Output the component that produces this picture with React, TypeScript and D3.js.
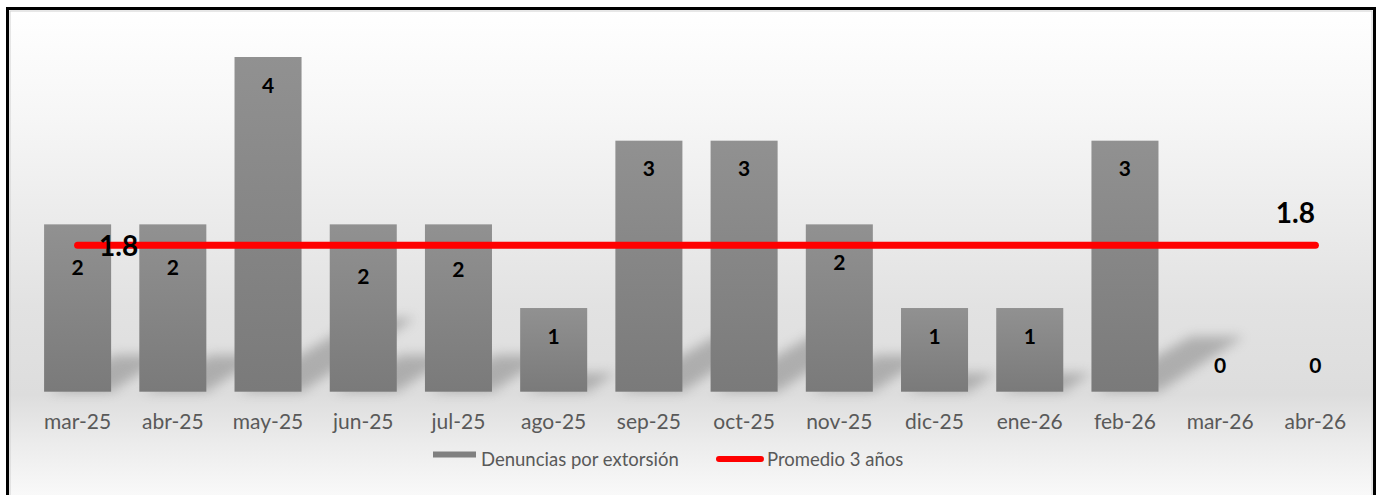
import React from "react";
import * as d3 from "d3";

const categories = ["mar-25","abr-25","may-25","jun-25","jul-25","ago-25","sep-25","oct-25","nov-25","dic-25","ene-26","feb-26","mar-26","abr-26"];
const denuncias = [2,2,4,2,2,1,3,3,2,1,1,3,0,0];
const promedio = [1.75,1.75,1.75,1.75,1.75,1.75,1.75,1.75,1.75,1.75,1.75,1.75,1.75,1.75];
// extra downward shift of some value labels (moved manually in the original to avoid the line)
const labelShift = [15,15,0,24,17,0,0,0,10,0,0,0,0,0];
const seriesNames = ["Denuncias por extorsión","Promedio 3 años"];

const W = 1380, H = 495;
const FONT = "Lato, 'Open Sans', sans-serif";

export default function App() {
  const x = d3.scaleBand<string>().domain(categories).range([30, 1363]).paddingInner(0.296).paddingOuter(0.148);
  const y = d3.scaleLinear().domain([0, 4]).range([391.7, 57]);
  const bw = x.bandwidth();
  const cx = (c: string) => (x(c) as number) + bw / 2;
  const base = y(0);

  const line = d3.line<number>()
    .x((_, i) => cx(categories[i]))
    .y(d => y(d));

  const fmt = d3.format(".1f");

  return (
    <svg width={W} height={H} style={{ position: "absolute", left: 0, top: 0 }} fontFamily={FONT}>
      <defs>
        <linearGradient id="bg" x1="0" y1="0" x2="0" y2="1">
          <stop offset="0" stopColor="#ffffff" />
          <stop offset="0.22" stopColor="#f6f6f6" />
          <stop offset="0.6" stopColor="#e2e2e2" />
          <stop offset="0.78" stopColor="#dddddd" />
          <stop offset="0.88" stopColor="#ececec" />
          <stop offset="1" stopColor="#fbfbfb" />
        </linearGradient>
        <linearGradient id="barg" x1="0" y1="0" x2="0" y2="1">
          <stop offset="0" stopColor="#919191" />
          <stop offset="1" stopColor="#7a7a7a" />
        </linearGradient>
        <filter id="blur" x="-50%" y="-50%" width="200%" height="200%">
          <feGaussianBlur stdDeviation="6" />
        </filter>
      </defs>
      <rect x={7.5} y={8.5} width={1367} height={495} fill="url(#bg)" stroke="#000" strokeWidth={3} />
      <rect x={10} y={11} width={1362} height={490} fill="none" stroke="#d0d0d0" strokeWidth={1} />

      {/* shadows */}
      <g filter="url(#blur)" opacity={0.42}>
        {denuncias.map((v, i) => {
          const c = categories[i];
          const x0 = x(c) as number, x1 = x0 + bw;
          const h = base - y(v);
          if (h <= 0) return null;
          const up = 0.22 * h, sh = 0.34 * h;
          const pts = [[x0 + 4, base], [x1, base], [x1 + sh, base - up], [x0 + sh + 14, base - up]];
          return <polygon key={c} points={pts.map(p => p.join(",")).join(" ")} fill="#6a6a6a" />;
        })}
      </g>

      {/* bars */}
      {denuncias.map((v, i) => {
        const c = categories[i];
        return <rect key={c} x={x(c)} y={y(v)} width={bw} height={base - y(v)} fill="url(#barg)" />;
      })}

      {/* category labels */}
      {categories.map(c => (
        <text key={c} x={cx(c)} y={429} textAnchor="middle" fontSize={21} fill="#595959">{c}</text>
      ))}

      {/* average line */}
      <path d={line(promedio) || ""} fill="none" stroke="#ff0000" strokeWidth={7} strokeLinecap="round" />

      {/* value labels */}
      {denuncias.map((v, i) => {
        const c = categories[i];
        const yy = v > 0 ? y(v) + 35.5 + labelShift[i] : base - 18.5;
        return <text key={c} x={cx(c)} y={yy} textAnchor="middle" fontSize={21} fontWeight="bold" fill="#000">{v}</text>;
      })}

      {/* average labels */}
      <text x={cx(categories[0]) + 41} y={y(promedio[0]) + 11} textAnchor="middle" fontSize={28} fontWeight="bold" fill="#000">{fmt(promedio[0])}</text>
      <text x={cx(categories[categories.length - 1]) - 20} y={y(promedio[promedio.length - 1]) - 22} textAnchor="middle" fontSize={28} fontWeight="bold" fill="#000">{fmt(promedio[promedio.length - 1])}</text>

      {/* legend */}
      <rect x={433} y={451.5} width={43} height={6} fill="#808080" />
      <text x={481} y={466} fontSize={18.5} fill="#595959">{seriesNames[0]}</text>
      <line x1={719} y1={459} x2={761} y2={459} stroke="#ff0000" strokeWidth={6} strokeLinecap="round" />
      <text x={767} y={466} fontSize={18.5} fill="#595959">{seriesNames[1]}</text>
    </svg>
  );
}
